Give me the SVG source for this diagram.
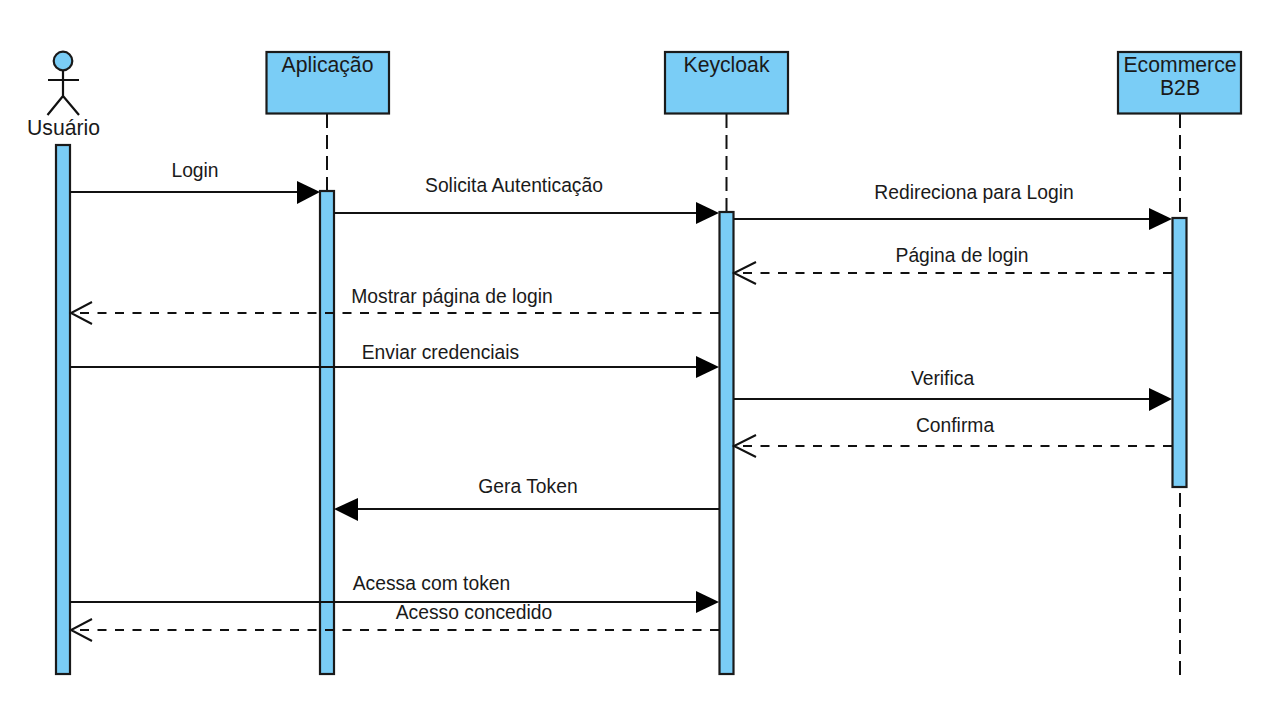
<svg xmlns="http://www.w3.org/2000/svg" width="1274" height="719" viewBox="0 0 1274 719">
<style>
text{font-family:"Liberation Sans",Arial,sans-serif;font-size:19.3px;fill:#1a1a1a;text-anchor:middle}
text.title{font-size:21.2px}
.box{fill:#7acdf6;stroke:#1a1a1a;stroke-width:2.2}
.msg{fill:none;stroke:#111;stroke-width:2.2}
.dash{stroke-dasharray:9 8.5}
.life{fill:none;stroke:#111;stroke-width:2;stroke-dasharray:14 7}
.head{fill:#000;stroke:none}
.open{fill:none;stroke:#111;stroke-width:2}
</style>
<rect width="1274" height="719" fill="#fff"/>
<g id="lifelines">
<path class="life" d="M327 114V191"/>
<path class="life" d="M726.500 114V212"/>
<path class="life" d="M1180 114V218M1180 675V487"/>
</g>
<g id="actor-usuario">
<circle class="box" cx="63" cy="61" r="9.300"/>
<path class="msg" d="M63 70V96M48 80H79M63 96L47.500 115M63 96L79 115"/>
<text class="title" x="63.500" y="134.500">Usuário</text>
<rect class="box" x="56" y="145" width="14" height="529"/>
</g>
<g id="node-aplicacao">
<rect class="box" x="266.500" y="52" width="122.500" height="61.500"/>
<text class="title" x="327.500" y="71.500">Aplicação</text>
<rect class="box" x="320" y="191" width="14" height="483"/>
</g>
<g id="node-keycloak">
<rect class="box" x="665" y="52" width="123" height="61.500"/>
<text class="title" x="726.500" y="71.500">Keycloak</text>
<rect class="box" x="719.500" y="212" width="14" height="462"/>
</g>
<g id="node-ecommerce">
<rect class="box" x="1118" y="52" width="123" height="61.500"/>
<text class="title" x="1180" y="71.500">Ecommerce</text>
<text class="title" x="1180" y="94.500">B2B</text>
<rect class="box" x="1172.500" y="218" width="14" height="269"/>
</g>
<g id="connectors">
<path class="msg" d="M70 192H298"/><path class="head" d="M297 181L320 192L297 204Z"/>
<path class="msg" d="M334 213H697"/><path class="head" d="M696 202L719 213L696 224Z"/>
<path class="msg" d="M734 219H1150"/><path class="head" d="M1149 208L1172 219L1149 230Z"/>
<path class="msg dash" d="M1172 273H735"/><path class="open" d="M756 262L734 273L756 284"/>
<path class="msg dash" d="M719 313H72"/><path class="open" d="M92 302L71 313L92 324"/>
<path class="msg" d="M70 367H697"/><path class="head" d="M696 356L719 367L696 378Z"/>
<path class="msg" d="M734 399H1150"/><path class="head" d="M1149 388L1172 399L1149 411Z"/>
<path class="msg dash" d="M1172 446H735"/><path class="open" d="M756 435L734 446L756 457"/>
<path class="msg" d="M719 509H357"/><path class="head" d="M358 498L334 509L358 521Z"/>
<path class="msg" d="M70 602H697"/><path class="head" d="M696 591L719 602L696 613Z"/>
<path class="msg dash" d="M719 630H72"/><path class="open" d="M92 619L71 630L92 641"/>
</g>
<g id="labels">
<text x="195" y="177">Login</text>
<text x="514" y="192">Solicita Autenticação</text>
<text x="974" y="199">Redireciona para Login</text>
<text x="962" y="262">Página de login</text>
<text x="452" y="303">Mostrar página de login</text>
<text x="440.500" y="359">Enviar credenciais</text>
<text x="942.500" y="385">Verifica</text>
<text x="955" y="432">Confirma</text>
<text x="528" y="493">Gera Token</text>
<text x="431.500" y="590">Acessa com token</text>
<text x="474" y="619">Acesso concedido</text>
</g>
</svg>
